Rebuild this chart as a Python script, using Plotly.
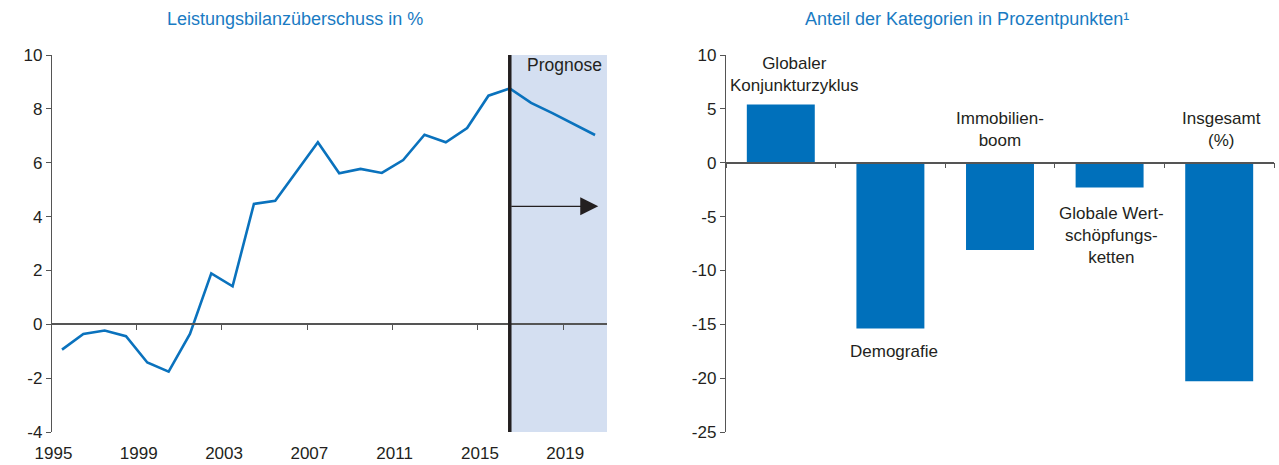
import plotly.graph_objects as go

# ---------------- data ----------------
years = list(range(1995, 2021))
surplus = [-0.94, -0.36, -0.23, -0.44, -1.42, -1.76, -0.36, 1.89, 1.41, 4.47,
           4.59, 5.67, 6.76, 5.61, 5.77, 5.62, 6.10, 7.04, 6.76, 7.29,
           8.49, 8.76, 8.22, 7.84, 7.44, 7.03]
forecast_start = 2016
year_tick_labels = ["1995", "1999", "2003", "2007", "2011", "2015", "2019"]
left_y_ticks = [-4, -2, 0, 2, 4, 6, 8, 10]

categories = ["Globaler Konjunkturzyklus", "Demografie", "Immobilienboom",
              "Globale Wertschöpfungsketten", "Insgesamt (%)"]
category_labels = ["Globaler<br>Konjunkturzyklus", "Demografie", "Immobilien-<br>boom",
                   "Globale Wert-<br>schöpfungs-<br>ketten", "Insgesamt<br>(%)"]
contributions = [5.4, -15.4, -8.1, -2.3, -20.3]
right_y_ticks = [-25, -20, -15, -10, -5, 0, 5, 10]

left_title = "Leistungsbilanzüberschuss in %"
right_title = "Anteil der Kategorien in Prozentpunkten¹"

# ---------------- style ----------------
W, H = 1279, 465
BLUE = "#0a72bd"
BAR = "#0070bb"
TITLE_BLUE = "#1a7bc3"
SHADE = "#d4dff1"
TXT = "#231f20"
AX = "#555555"
FONT = "Liberation Sans, Arial, sans-serif"

ydom = [1 - 432 / H, 1 - 55 / H]
xdom_l = [52 / W, 607 / W]
xdom_r = [726 / W, 1274 / W]

yr_l = [-4, 10]
yr_r = [-25, 10]
xr_l = [1994.53, 2020.56]


def zero_pos(rng):
    return ydom[0] + (0 - rng[0]) / (rng[1] - rng[0]) * (ydom[1] - ydom[0])


def tick_text(vals):
    return [str(v).replace("\u2212", "-") for v in vals]


fig = go.Figure()

fig.add_trace(go.Scatter(x=years, y=surplus, mode="lines",
                         line=dict(color=BLUE, width=2.6), xaxis="x", yaxis="y",
                         showlegend=False, hoverinfo="x+y"))
# invisible twin so that the zero-line axis (x3) gets drawn
fig.add_trace(go.Scatter(x=years, y=surplus, mode="lines", opacity=0,
                         line=dict(width=0), xaxis="x3", yaxis="y",
                         showlegend=False, hoverinfo="skip"))

fig.add_trace(go.Bar(x=categories, y=contributions, marker=dict(color=BAR, line=dict(width=0)),
                     width=0.62, xaxis="x2", yaxis="y2", showlegend=False))

label_years = [int(t) for t in year_tick_labels]

fig.update_layout(
    width=W, height=H,
    margin=dict(l=0, r=0, t=0, b=0),
    paper_bgcolor="white", plot_bgcolor="white",
    font=dict(family=FONT, size=17, color=TXT),
    xaxis=dict(domain=xdom_l, anchor="y", range=xr_l, showgrid=False, zeroline=False,
               showline=False, tickvals=[y - 0.4 for y in label_years],
               ticktext=year_tick_labels, ticks="outside", ticklen=6,
               tickcolor="rgba(0,0,0,0)", automargin=False),
    xaxis3=dict(overlaying="x", anchor="free", position=zero_pos(yr_l), range=xr_l,
                showgrid=False, zeroline=False, showline=True, linecolor=AX, linewidth=1.5,
                tickvals=[y - 0.5 for y in label_years[1:]], ticks="outside", ticklen=5,
                tickcolor=AX, tickwidth=1.3, showticklabels=False),
    yaxis=dict(domain=ydom, anchor="x", range=yr_l, tickvals=left_y_ticks,
               ticktext=tick_text(left_y_ticks),
               showgrid=False, zeroline=False, showline=True, linecolor=AX, linewidth=1.3,
               ticks="outside", ticklen=5, tickcolor=AX, tickwidth=1.3, automargin=False),
    xaxis2=dict(domain=xdom_r, anchor="free", position=zero_pos(yr_r), type="category",
                range=[-0.5, 4.5], showgrid=False, zeroline=False, showline=True,
                linecolor=AX, linewidth=1.5, tickson="boundaries", ticks="outside",
                ticklen=5, tickcolor=AX, tickwidth=1.3, showticklabels=False),
    yaxis2=dict(domain=ydom, anchor="x2", range=yr_r, tickvals=right_y_ticks,
                ticktext=tick_text(right_y_ticks),
                showgrid=False, zeroline=False, showline=True, linecolor=AX, linewidth=1.3,
                ticks="outside", ticklen=5, tickcolor=AX, tickwidth=1.3, automargin=False),
)

# forecast shading and divider
fig.add_shape(type="rect", xref="x", yref="y domain", x0=forecast_start, x1=xr_l[1],
              y0=0, y1=1, fillcolor=SHADE, line=dict(width=0), layer="below")
fig.add_shape(type="line", xref="x", yref="y domain", x0=forecast_start, x1=forecast_start,
              y0=0, y1=1, line=dict(color="#231f20", width=3.5), layer="above")

fig.add_annotation(x=xr_l[1], y=10, xref="x", yref="y", text="Prognose", showarrow=False,
                   xanchor="right", yanchor="top", xshift=-3, yshift=2,
                   font=dict(size=17.5, color=TXT))
fig.add_annotation(x=2020.15, y=4.38, ax=forecast_start, ay=4.38, xref="x", yref="y",
                   axref="x", ayref="y", text="", showarrow=True, arrowhead=2,
                   arrowsize=3, arrowwidth=1.2, arrowcolor="#231f20", standoff=0)

# category labels
label_y = [8.17, -17.5, 3.1, -6.8, 3.1]
label_dx = [14, 4, 0, 2, 2]
for cat, txt, ly, dx in zip(categories, category_labels, label_y, label_dx):
    fig.add_annotation(x=cat, y=ly, xref="x2", yref="y2", text=txt, showarrow=False,
                       xanchor="center", yanchor="middle",
                       xshift=dx, font=dict(size=17, color=TXT), align="center")

# titles
for tx, ttl in [(295 / W, left_title), (967 / W, right_title)]:
    fig.add_annotation(x=tx, y=1 - 19 / H, xref="paper", yref="paper", text=ttl,
                       xanchor="center", yanchor="middle",
                       showarrow=False, font=dict(size=18, color=TITLE_BLUE))

fig.write_html("out.html", config={"displayModeBar": False},
               post_script="document.body.style.margin='0';document.body.style.padding='0';")
